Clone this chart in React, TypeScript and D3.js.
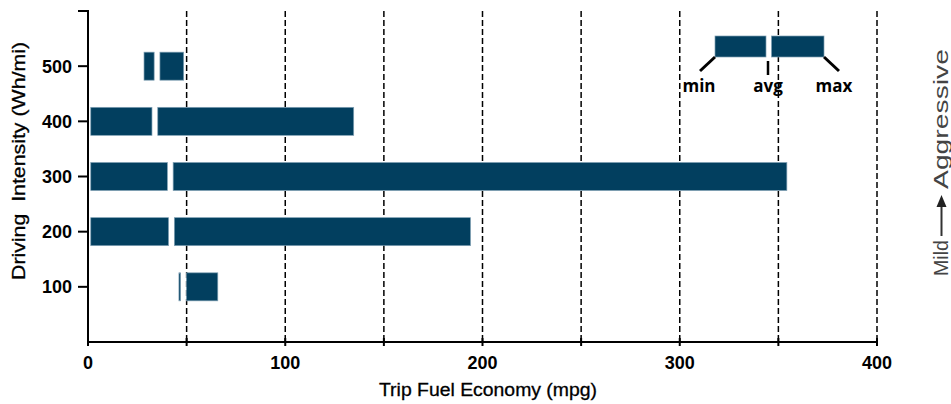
import React from "react";
import * as d3 from "d3";

const categories = [100, 200, 300, 400, 500];
const minVals = [46.1, 1.4, 1.4, 1.4, 28.4];
const avgVals = [48.4, 42.3, 41.7, 33.9, 35.0];
const maxVals = [65.8, 193.9, 354.3, 134.7, 48.5];
const xTicks = [0, 100, 200, 300, 400];
const gridTicks = [50, 100, 150, 200, 250, 300, 350, 400];
const yTicks = [100, 200, 300, 400, 500];

const W = 951;
const H = 404;
const FILL = "#023f5f";
const EDGE = "#7e9fb3";
const AX = "Liberation Sans, Arial, Helvetica, sans-serif";

export default function App() {
  const x = d3.scaleLinear().domain([0, 400]).range([88, 877]);
  const y = d3.scaleLinear().domain([0, 600]).range([342, 11]);
  const barH = 28;
  const gap = 2.9;

  const bars = categories.map((c, i) => ({
    c,
    min: minVals[i],
    avg: avgVals[i],
    max: maxVals[i],
  }));

  return (
    <svg
      width={W}
      height={H}
      style={{ position: "absolute", left: 0, top: 0, background: "#fff" }}
      fontFamily={AX}
    >
      {/* grid */}
      {gridTicks.map((t) => (
        <line
          key={"g" + t}
          x1={x(t)}
          x2={x(t)}
          y1={y(600)}
          y2={y(0)}
          stroke="#000"
          strokeWidth={1.5}
          strokeDasharray="6,3"
        />
      ))}

      {/* bars */}
      {bars.map((b) => {
        const cy = y(b.c);
        const x0 = x(b.min);
        const xa = x(b.avg);
        const x1 = x(b.max);
        return (
          <g key={"b" + b.c}>
            <rect
              x={x0}
              y={cy - barH / 2}
              width={Math.max(0.8, xa - gap - x0)}
              height={barH}
              fill={FILL}
              stroke={EDGE}
              strokeWidth={0.7}
            />
            <rect
              x={xa + gap}
              y={cy - barH / 2}
              width={Math.max(0.8, x1 - xa - gap)}
              height={barH}
              fill={FILL}
              stroke={EDGE}
              strokeWidth={0.7}
            />
          </g>
        );
      })}

      {/* axes */}
      <line x1={88} x2={88} y1={y(600)} y2={y(0) + 1} stroke="#000" strokeWidth={2} />
      <line x1={78} x2={89} y1={y(600)} y2={y(600)} stroke="#000" strokeWidth={2} />
      {yTicks.map((t) => (
        <g key={"y" + t}>
          <line x1={78} x2={88} y1={y(t)} y2={y(t)} stroke="#000" strokeWidth={2} />
          <text
            x={72}
            y={y(t)}
            dy="0.36em"
            textAnchor="end"
            fontSize={18}
            fontWeight="bold"
          >
            {t}
          </text>
        </g>
      ))}
      <line x1={87} x2={878} y1={y(0)} y2={y(0)} stroke="#000" strokeWidth={2} />
      {gridTicks.concat([0]).map((t) => (
        <line
          key={"xt" + t}
          x1={x(t)}
          x2={x(t)}
          y1={y(0) - 4}
          y2={y(0) + 4}
          stroke="#000"
          strokeWidth={2}
        />
      ))}
      {xTicks.map((t) => (
        <text
          key={"xl" + t}
          x={x(t)}
          y={369}
          textAnchor="middle"
          fontSize={18}
          fontWeight="bold"
        >
          {t}
        </text>
      ))}

      <text
        x={488}
        y={396}
        textAnchor="middle"
        fontSize={18}
        fontWeight={500}
        stroke="#000"
        strokeWidth={0.3}
        textLength={218}
        lengthAdjust="spacingAndGlyphs"
      >
        Trip Fuel Economy (mpg)
      </text>
      <text
        transform="translate(24.5,161) rotate(-90)"
        textAnchor="middle"
        fontSize={18}
        stroke="#000"
        strokeWidth={0.3}
        textLength={238}
        lengthAdjust="spacingAndGlyphs"
        style={{ whiteSpace: "pre" }}
      >
        {"Driving  Intensity (Wh/mi)"}
      </text>

      {/* legend */}
      <g>
        <rect x={715} y={36} width={769 - 3 - 715} height={21} fill={FILL} stroke={EDGE} strokeWidth={0.7} />
        <rect x={769 + 2.5} y={36} width={824 - 769 - 2.5} height={21} fill={FILL} stroke={EDGE} strokeWidth={0.7} />
        <line x1={715} y1={57} x2={700} y2={71} stroke="#000" strokeWidth={3} />
        <line x1={824} y1={57} x2={839} y2={71} stroke="#000" strokeWidth={3} />
        <line x1={768} y1={61} x2={768} y2={75} stroke="#000" strokeWidth={2.5} />
        <g fontFamily="Open Sans, sans-serif" fontWeight={700} fontSize={17} textAnchor="middle">
          <text x={699} y={92}>min</text>
          <text x={768} y={92}>avg</text>
          <text x={834} y={92}>max</text>
        </g>
      </g>

      {/* Mild -> Aggressive */}
      <g fill="#444" fontSize={21}>
        <text transform="translate(948,276) rotate(-90)" textAnchor="start" textLength={36} lengthAdjust="spacingAndGlyphs">Mild</text>
        <line x1={941.5} x2={941.5} y1={236} y2={205} stroke="#333" strokeWidth={2} />
        <path d="M941.5,195 L936.5,207 L946.5,207 Z" fill="#222" />
        <text transform="translate(948,189) rotate(-90)" textAnchor="start" textLength={140} lengthAdjust="spacingAndGlyphs">Aggressive</text>
      </g>
    </svg>
  );
}
